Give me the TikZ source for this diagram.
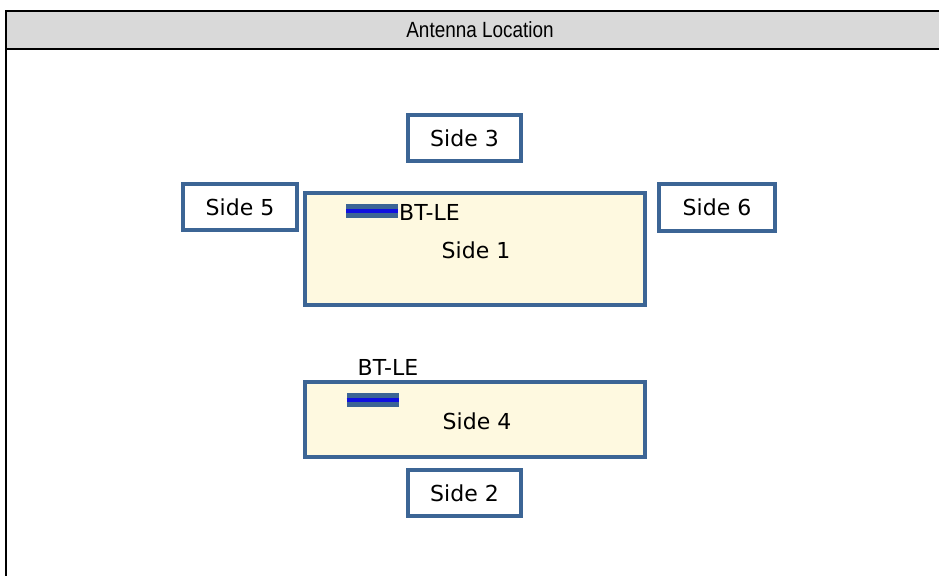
\documentclass[tikz,border=0pt]{standalone}
\usepackage{fontspec}
\setmainfont{Liberation Sans}
\newfontfamily\titlefont[FakeStretch=0.86]{Liberation Sans}
\newfontfamily\boxfont{DejaVu Sans}
\definecolor{edgeblue}{HTML}{3C6595}
\definecolor{cream}{HTML}{FEF9E0}
\definecolor{headgray}{HTML}{D9D9D9}
\definecolor{antblue}{HTML}{1010E0}
\begin{document}
\begin{tikzpicture}[x=1pt,y=-1pt,
  sidebox/.style={draw=edgeblue,line width=4pt,fill=white,inner sep=0pt,
    font=\boxfont\fontsize{22}{24}\selectfont},
  bigbox/.style={sidebox,fill=cream},
  antbar/.style={draw=edgeblue,line width=3pt,fill=edgeblue,inner sep=0pt,minimum width=49pt,minimum height=11pt},
  lbl/.style={inner sep=0pt,font=\boxfont\fontsize{22}{24}\selectfont}]
\useasboundingbox (0,0) rectangle (939,576);
% frame
\fill[headgray] (6,11) rectangle (939,49);
\draw[line width=2pt] (939,11) -- (6,11) -- (6,576);
\draw[line width=2pt] (6,49) -- (939,49);
\node[font=\titlefont\fontsize{22}{24}\selectfont,inner sep=0pt] (title) at (480,30) {Antenna Location};
% boxes
\node[sidebox,minimum width=113pt,minimum height=46pt] (s3) at (464.5,138) {Side 3};
\node[sidebox,minimum width=114pt,minimum height=46pt] (s5) at (240,207) {Side 5};
\node[sidebox,minimum width=116pt,minimum height=47pt] (s6) at (717,207.5) {Side 6};
\node[bigbox,minimum width=340pt,minimum height=112pt] (s1) at (475,249) {};
\node[lbl] (s1t) at (476,250) {Side 1};
\node[bigbox,minimum width=340pt,minimum height=75pt] (s4) at (475,419.5) {};
\node[lbl] (s4t) at (477,421) {Side 4};
\node[sidebox,minimum width=113pt,minimum height=46pt] (s2) at (464.5,493) {Side 2};
% antennas
\node[antbar] (a1) at (372,211) {};
\draw[antblue,line width=4pt] (a1.west) -- (a1.east);
\node[lbl,anchor=west] (a1l) at (399,212) {BT-LE};
\node[antbar] (a2) at (372.5,400) {};
\draw[antblue,line width=4pt] (a2.west) -- (a2.east);
\node[lbl] (a2l) at (388,367) {BT-LE};
\end{tikzpicture}
\end{document}
